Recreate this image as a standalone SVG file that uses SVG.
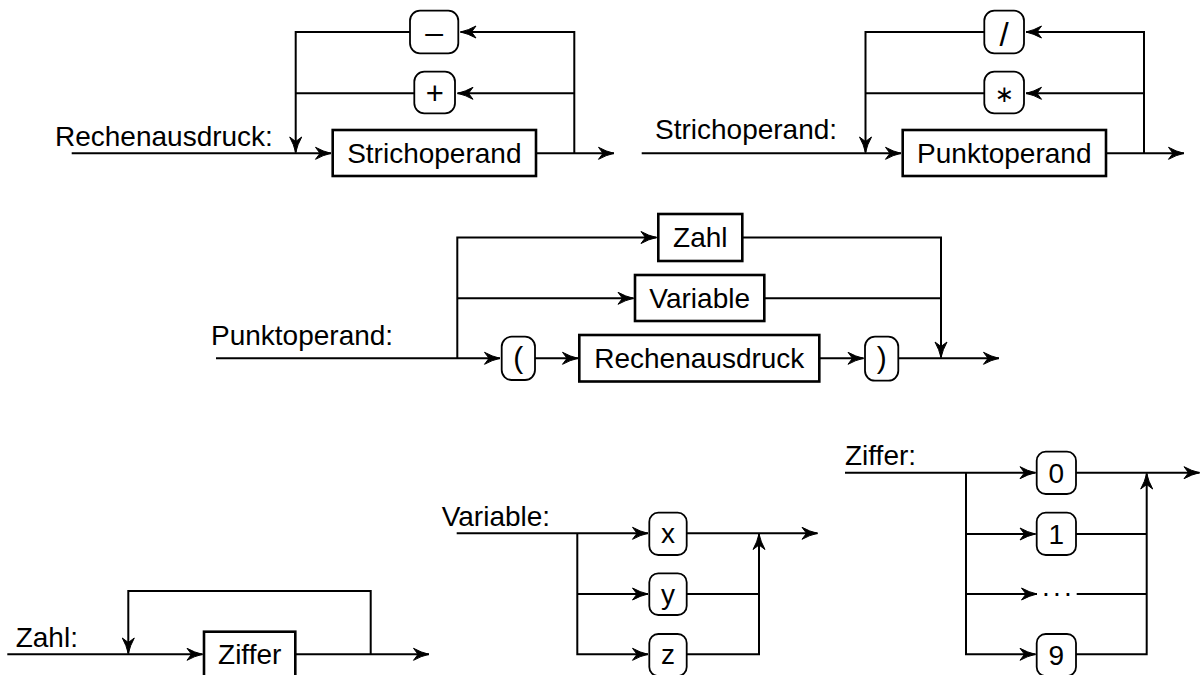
<svg xmlns="http://www.w3.org/2000/svg" width="1201" height="675" viewBox="0 0 1201 675">
<style>
.ln{fill:none;stroke:#000;stroke-width:2;stroke-linejoin:miter}
.ar{marker-end:url(#ah)}
.box{fill:#fff;stroke:#000;stroke-width:2.6}
.rb{fill:#fff;stroke:#000;stroke-width:1.8}
text{font-family:"Liberation Sans",Arial,Helvetica,sans-serif;font-size:28px;fill:#000}
.c{text-anchor:middle}
.sym{font-family:"DejaVu Sans","Liberation Sans",sans-serif;font-size:23px}
</style>
<defs>
<marker id="ah" markerUnits="userSpaceOnUse" viewBox="-18 -8 19 16" markerWidth="19" markerHeight="16" refX="0" refY="0" orient="auto">
<path d="M0,0 Q-8,-1.8 -15.5,-6 L-11,0 L-15.5,6 Q-8,1.8 0,0 Z" fill="#000" stroke="#000" stroke-width="1" stroke-linejoin="round"/>
</marker>
</defs>
<rect x="0" y="0" width="1201" height="675" fill="#fff"/>

<g id="connectors">
<!-- Rechenausdruck -->
<path class="ln ar" d="M71.7,153.3 H331"/>
<path class="ln ar" d="M536,153.3 H614"/>
<path class="ln ar" d="M574.3,153.3 V32 H460.5"/>
<path class="ln ar" d="M574.3,93.3 H457.5"/>
<path class="ln ar" d="M410,32 H295.7 V152.5"/>
<path class="ln" d="M414.3,93.3 H295.7"/>
<!-- Strichoperand -->
<path class="ln ar" d="M641.7,153.3 H901"/>
<path class="ln ar" d="M1106,153.3 H1184"/>
<path class="ln ar" d="M1144,153.3 V32 H1026"/>
<path class="ln ar" d="M1144,93.3 H1026"/>
<path class="ln ar" d="M984.3,32 H865.5 V152.5"/>
<path class="ln" d="M984.3,93.3 H865.5"/>
<!-- Punktoperand -->
<path class="ln ar" d="M216,358.3 H500"/>
<path class="ln ar" d="M457.3,358.3 V237.5 H656.5"/>
<path class="ln ar" d="M457.3,298.3 H633.5"/>
<path class="ln ar" d="M742.3,237.5 H941 V357.5"/>
<path class="ln" d="M764.3,298.3 H941"/>
<path class="ln ar" d="M535,358.3 H578"/>
<path class="ln ar" d="M819.3,358.3 H863.5"/>
<path class="ln ar" d="M898.3,358.3 H999"/>
<!-- Zahl -->
<path class="ln ar" d="M7.3,654.3 H202.5"/>
<path class="ln ar" d="M295.3,654.3 H429"/>
<path class="ln ar" d="M370.7,654.3 V591 H128.3 V653.5"/>
<!-- Variable -->
<path class="ln ar" d="M456.7,533.3 H648"/>
<path class="ln ar" d="M686.7,533.3 H817.5"/>
<path class="ln ar" d="M577.3,533.3 V654.3 H648"/>
<path class="ln ar" d="M577.3,594 H648"/>
<path class="ln ar" d="M686.7,654.3 H759 V534"/>
<path class="ln" d="M686.7,594 H759"/>
<!-- Ziffer -->
<path class="ln ar" d="M845,472.7 H1035.5"/>
<path class="ln ar" d="M1076,472.7 H1199.5"/>
<path class="ln ar" d="M966,472.7 V654.3 H1035.5"/>
<path class="ln ar" d="M966,534 H1035.5"/>
<path class="ln ar" d="M966,594 H1037"/>
<path class="ln" d="M1076.7,594 H1146.7"/>
<path class="ln ar" d="M1076,654.3 H1146.7 V473.5"/>
<path class="ln" d="M1076,534 H1146.7"/>
</g>

<g id="labels">
<text x="55" y="145.5">Rechenausdruck:</text>
<text x="655" y="139">Strichoperand:</text>
<text x="211" y="345">Punktoperand:</text>
<text x="15.7" y="646.7">Zahl:</text>
<text x="441.7" y="526">Variable:</text>
<text x="845" y="465">Ziffer:</text>
</g>

<g id="n-strichoperand"><rect class="box" x="332.7" y="130" width="203.3" height="46"/><text class="c" x="434.3" y="162.5">Strichoperand</text></g>
<g id="n-minus"><rect class="rb" x="410" y="10.7" width="48.3" height="42.6" rx="10"/><text class="c" x="434.2" y="43" style="font-size:32px">–</text></g>
<g id="n-plus"><rect class="rb" x="414.3" y="71.7" width="40.7" height="41.6" rx="10"/><text class="c" x="434.7" y="104" style="font-size:31px">+</text></g>

<g id="n-punktoperand"><rect class="box" x="902.7" y="130" width="203.3" height="46"/><text class="c" x="1004.3" y="162.5">Punktoperand</text></g>
<g id="n-slash"><rect class="rb" x="984.3" y="10.7" width="39.7" height="42.6" rx="10"/><text class="c" x="1004.2" y="46" style="font-size:33px;font-weight:300">/</text></g>
<g id="n-star"><rect class="rb" x="984.3" y="71.7" width="39.7" height="41.6" rx="10"/><text class="c sym" x="1004.2" y="102">∗</text></g>

<g id="n-zahl"><rect class="box" x="658.3" y="214" width="84" height="47"/><text class="c" x="700.3" y="247">Zahl</text></g>
<g id="n-variable"><rect class="box" x="635" y="275" width="129.3" height="46"/><text class="c" x="699.7" y="307.5">Variable</text></g>
<g id="n-lparen"><rect class="rb" x="501.7" y="336.7" width="33.3" height="43.3" rx="10"/><text class="c" x="518.3" y="368" style="font-size:30px">(</text></g>
<g id="n-rechenausdruck"><rect class="box" x="579.3" y="335" width="240" height="46.5"/><text class="c" x="699.3" y="367.5">Rechenausdruck</text></g>
<g id="n-rparen"><rect class="rb" x="865" y="336.7" width="33.3" height="44" rx="10"/><text class="c" x="881.7" y="368" style="font-size:30px">)</text></g>

<g id="n-ziffer"><rect class="box" x="204" y="631.7" width="91.3" height="46"/><text class="c" x="249.7" y="664">Ziffer</text></g>

<g id="n-x"><rect class="rb" x="649.3" y="512.7" width="37.4" height="42.3" rx="9"/><text class="c" x="668" y="543">x</text></g>
<g id="n-y"><rect class="rb" x="649.3" y="573.3" width="37.4" height="41.7" rx="9"/><text class="c" x="668" y="603.7">y</text></g>
<g id="n-z"><rect class="rb" x="649.3" y="634" width="37.4" height="42" rx="9"/><text class="c" x="668" y="664">z</text></g>

<g id="n-0"><rect class="rb" x="1036.7" y="451.7" width="39.3" height="42.3" rx="9"/><text class="c" x="1056.3" y="483">0</text></g>
<g id="n-1"><rect class="rb" x="1036.7" y="512.7" width="39.3" height="42.3" rx="9"/><text class="c" x="1056.3" y="544">1</text></g>
<g id="n-dots"><text class="c" x="1046 1057 1068" y="602">···</text></g>
<g id="n-9"><rect class="rb" x="1036.7" y="634" width="39.3" height="42" rx="9"/><text class="c" x="1056.3" y="664.5">9</text></g>
</svg>
